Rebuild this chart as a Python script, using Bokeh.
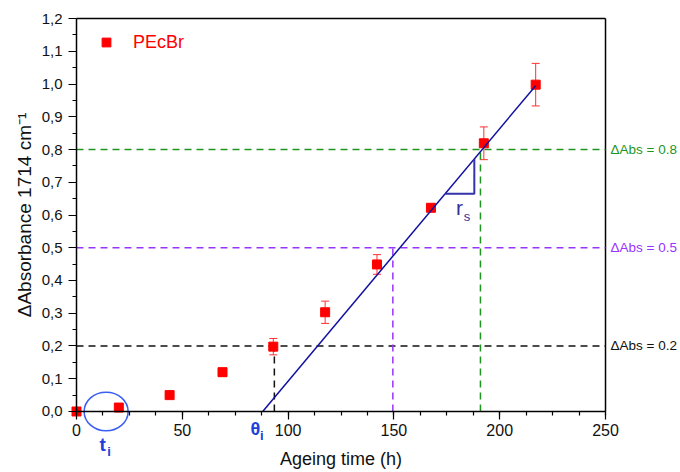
import math
from bokeh.plotting import figure
from bokeh.models import (ColumnDataSource, Whisker, TeeHead, Label,
                          SingleIntervalTicker, CustomJSTickFormatter, Range1d)
from bokeh.embed import file_html
from bokeh.resources import INLINE

# ---- data ----
ageing_h = [0, 20, 44, 69, 93, 117.5, 142, 167.5, 192.5, 217]
delta_abs = [0.0, 0.012, 0.05, 0.12, 0.198, 0.303, 0.449, 0.622, 0.819, 0.998]
delta_err = [0.0, 0.004, 0.004, 0.012, 0.025, 0.034, 0.03, 0.006, 0.05, 0.065]

fit_x = [88, 217]
fit_y = [0.0, 0.995]

levels = [0.2, 0.5, 0.8]
level_cross_x = [93.5, 149.5, 190.9]
level_colors = ["#111111", "#9933ff", "#1f961f"]
level_labels = ["\u0394Abs = 0.2", "\u0394Abs = 0.5", "\u0394Abs = 0.8"]

slope_tri_x = [174.3, 188.0, 188.0]
slope_tri_y = [0.665, 0.665, 0.771]

ti_center_x = [14.0]
ti_center_y = [0.0]
ti_width = [20.8]
ti_height = [0.118]

X_MAX = 250
Y_MAX = 1.2

FONT = "Liberation Sans"
BLUE = "#2040d8"
NAVY = "#1010a0"

p = figure(frame_width=680, frame_height=472,
           x_range=Range1d(-35.92, 285.44), y_range=Range1d(-0.1863, 1.255),
           output_backend="svg", toolbar_location=None,
           min_border_left=0, min_border_right=0,
           min_border_top=0, min_border_bottom=0)
p.grid.visible = False
p.outline_line_color = None
p.background_fill_color = "white"
p.border_fill_color = "white"

# axes placed at the data origin
p.xaxis.fixed_location = 0
p.yaxis.fixed_location = 0
p.xaxis.bounds = (0, X_MAX)
p.yaxis.bounds = (0, Y_MAX + 1e-6)
p.xaxis.ticker = SingleIntervalTicker(interval=50, num_minor_ticks=4)
p.yaxis.ticker = SingleIntervalTicker(interval=0.1, num_minor_ticks=2)
p.yaxis.formatter = CustomJSTickFormatter(code="return tick.toFixed(1).replace('.', ',');")
for ax in (p.xaxis, p.yaxis):
    ax.axis_line_width = 1.5
    ax.major_tick_line_width = 1.2
    ax.minor_tick_line_width = 1.2
    ax.major_tick_in = 0
    ax.major_tick_out = 8
    ax.minor_tick_in = 0
    ax.minor_tick_out = 4
    ax.major_label_text_font = FONT
    ax.major_label_text_color = "#111111"
p.xaxis.major_label_text_font_size = "16px"
p.yaxis.major_label_text_font_size = "15px"
p.xaxis.major_label_standoff = 5
p.yaxis.major_label_standoff = 6

# top and right frame edges
p.segment(x0=[0, X_MAX], y0=[Y_MAX, 0], x1=[X_MAX, X_MAX], y1=[Y_MAX, Y_MAX],
          line_color="black", line_width=1.5)

# axis titles
p.add_layout(Label(x=X_MAX / 2, y=-0.145, text="Ageing time (h)",
                   text_font=FONT, text_font_size="18px", text_color="#111111",
                   text_align="center", text_baseline="alphabetic"))
p.add_layout(Label(x=-24.8, y=Y_MAX / 2, text="\u0394Absorbance 1714 cm\u207b\u00b9",
                   angle=math.pi / 2, text_font=FONT, text_font_size="19px",
                   text_color="#111111", text_align="center",
                   text_baseline="alphabetic"))

# threshold lines
p.segment(x0=[0] * len(levels), y0=levels, x1=[X_MAX] * len(levels), y1=levels,
          line_color=level_colors, line_width=1.5, line_dash="7 5")
p.segment(x0=level_cross_x, y0=[0] * len(levels), x1=level_cross_x, y1=levels,
          line_color=level_colors, line_width=1.5, line_dash="7 5")
for lv, c, t in zip(levels, level_colors, level_labels):
    p.add_layout(Label(x=X_MAX, y=lv, x_offset=5, text=t, text_color=c,
                       text_font=FONT, text_font_size="13.5px",
                       text_baseline="middle", text_align="left"))

# data with error bars
src = ColumnDataSource(dict(x=ageing_h, y=delta_abs,
                            lo=[a - e for a, e in zip(delta_abs, delta_err)],
                            hi=[a + e for a, e in zip(delta_abs, delta_err)]))
p.add_layout(Whisker(base="x", lower="lo", upper="hi", source=src,
                     line_color="#ff3030", line_width=1,
                     upper_head=TeeHead(size=8, line_color="#ff3030", line_width=1),
                     lower_head=TeeHead(size=8, line_color="#ff3030", line_width=1)))
p.scatter("x", "y", source=src, marker="square", size=9,
          fill_color="#ff0000", line_color="#ff0000", legend_label="PEcBr")

# fit line and slope triangle
p.line(fit_x, fit_y, line_color=NAVY, line_width=1.5)
p.line(slope_tri_x, slope_tri_y, line_color="#3333aa", line_width=2)

# ellipse marking t_i
p.ellipse(x=ti_center_x, y=ti_center_y, width=ti_width, height=ti_height,
          fill_alpha=0, line_color="#3a5ef5", line_width=1.5)

# annotation texts
def lab(x, y, text, size, color, bold=True):
    p.add_layout(Label(x=x, y=y, text=text, text_color=color, text_font=FONT,
                       text_font_size=size,
                       text_font_style="bold" if bold else "normal",
                       text_align="center", text_baseline="middle"))

lab(84.5, -0.052, "\u03b8", "18px", BLUE)
lab(87.6, -0.072, "i", "13px", BLUE)
lab(12.4, -0.100, "t", "19px", BLUE)
lab(15.4, -0.122, "i", "13px", BLUE)
lab(181.0, 0.622, "r", "21px", "#333399", bold=False)
lab(184.5, 0.594, "s", "13px", "#333399", bold=False)

# legend
lg = p.legend[0]
lg.location = (89, 419)
lg.margin = 0
lg.padding = 0
lg.glyph_width = 34
lg.glyph_height = 22
lg.label_height = 22
lg.label_standoff = 10
lg.label_text_color = "#ff0000"
lg.label_text_font = FONT
lg.label_text_font_size = "18px"
lg.border_line_color = None
lg.background_fill_alpha = 0

open("out.html", "w").write(file_html(p, INLINE))
